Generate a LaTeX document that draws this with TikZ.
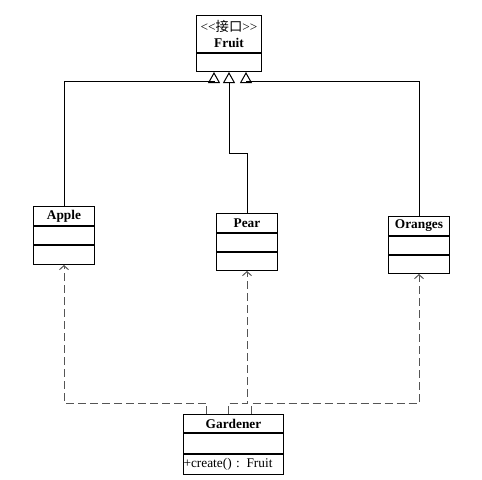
\documentclass[tikz,border=0pt]{standalone}
\usepackage{fontspec}
\setmainfont{Liberation Serif}
\newfontfamily\cjk{Noto Sans CJK SC}
\usetikzlibrary{arrows.meta,positioning}
\definecolor{Dash}{HTML}{555555}
\newdimen\upx \upx=0.75pt

\begin{document}
\begin{tikzpicture}[x=\upx,y=-\upx,line width=\upx,
  classhead/.style={draw,anchor=north west,inner sep=0pt,minimum width=61\upx,minimum height=19\upx,font=\bfseries},
  classpart/.style={draw,inner sep=0pt,minimum width=61\upx,minimum height=18\upx},
  inherit/.style={-{Triangle[open,length=8.25pt,width=9pt]}},
  depend/.style={Dash,dash pattern=on 6pt off 3pt,-{Straight Barb[length=3pt,width=6.75pt]}}]
  \useasboundingbox (0,0) rectangle (482,479);
  % interface
  \node[classhead,minimum width=65\upx,minimum height=37\upx,align=center] (fruit) at (196,15)
    {{\mdseries<\kern0pt<{\cjk 接口}>\kern0pt>}\\Fruit};
  \node[classpart,minimum width=65\upx,below=0pt of fruit] (fruit-ops) {};
  % products
  \node[classhead] (apple) at (33,206) {Apple};
  \node[classpart,below=0pt of apple] (apple-attr) {};
  \node[classpart,minimum height=19\upx,below=0pt of apple-attr] (apple-ops) {};
  \node[classhead] (pear) at (216,213) {Pear};
  \node[classpart,below=0pt of pear] (pear-attr) {};
  \node[classpart,below=0pt of pear-attr] (pear-ops) {};
  \node[classhead] (oranges) at (388,216) {Oranges};
  \node[classpart,below=0pt of oranges] (oranges-attr) {};
  \node[classpart,below=0pt of oranges-attr] (oranges-ops) {};
  % factory
  \node[classhead,minimum width=100\upx,minimum height=18\upx] (gardener) at (183,414) {Gardener};
  \node[classpart,minimum width=100\upx,minimum height=20\upx,below=0pt of gardener] (gardener-attr) {};
  \node[classpart,minimum width=100\upx,minimum height=20\upx,text width=100\upx,align=left,below=0pt of gardener-attr] (gardener-ops) {+create() : Fruit};
  % realization
  \draw[inherit] (apple.north) -- ++(0,-125) -| ([xshift=-11.25pt]fruit-ops.south);
  \draw[inherit] (pear.north) -- ++(0,-60) -| (fruit-ops.south);
  \draw[inherit] (oranges.north) -- ++(0,-135) -| ([xshift=12.75pt]fruit-ops.south);
  % dependencies
  \draw[depend] ([xshift=-20.25pt]gardener.north) -- ++(0,-11) -| (apple-ops.south);
  \draw[depend] ([xshift=-3.75pt]gardener.north) -- ++(0,-11) -| (pear-ops.south);
  \draw[depend] ([xshift=13.5pt]gardener.north) -- ++(0,-11) -| (oranges-ops.south);
\end{tikzpicture}
\end{document}
